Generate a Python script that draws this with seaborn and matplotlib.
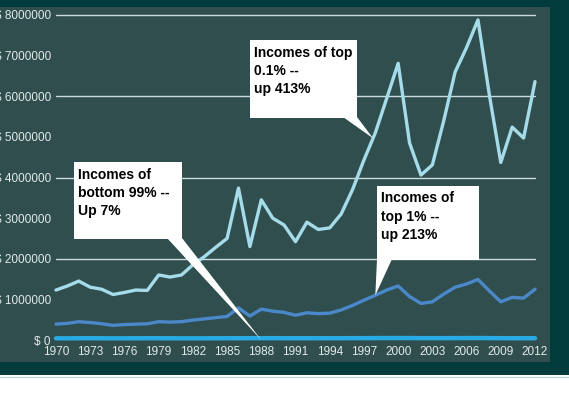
import numpy as np
import pandas as pd
import matplotlib
matplotlib.use("Agg")
import matplotlib.pyplot as plt
from matplotlib.patches import Rectangle, Polygon
from matplotlib.lines import Line2D
import seaborn as sns

years = list(range(1970, 2013))

# average income, top 0.1%
top01 = [1230000, 1330000, 1450000, 1300000, 1250000, 1120000, 1170000, 1230000,
         1220000, 1600000, 1550000, 1600000, 1850000, 2050000, 2280000, 2500000,
         3740000, 2300000, 3450000, 3000000, 2830000, 2420000, 2900000, 2720000,
         2760000, 3100000, 3700000, 4430000, 5100000, 5950000, 6810000, 4850000,
         4060000, 4310000, 5400000, 6600000, 7200000, 7880000, 6030000, 4370000,
         5240000, 4970000, 6360000]

# average income, top 1%
top1 = [390000, 410000, 450000, 430000, 400000, 360000, 380000, 390000,
        400000, 450000, 440000, 450000, 490000, 520000, 550000, 580000,
        790000, 590000, 760000, 710000, 680000, 610000, 670000, 650000,
        660000, 740000, 850000, 980000, 1100000, 1230000, 1330000, 1070000,
        900000, 940000, 1130000, 1300000, 1380000, 1490000, 1210000, 940000,
        1050000, 1030000, 1250000]

# average income, bottom 99%
bottom99 = [41000, 42000, 43500, 44500, 43000, 41500, 42000, 42500,
            43500, 43500, 42500, 42000, 41500, 42000, 43000, 43500,
            44000, 44500, 45000, 45000, 44500, 43500, 44000, 43500,
            44000, 44500, 45000, 46000, 47000, 48000, 48500, 47500,
            46500, 46000, 46500, 47000, 47500, 48000, 47000, 44500,
            44000, 43500, 44000]

xticks = list(range(1970, 2013, 3))
yticks = list(range(0, 8000001, 1000000))

df = pd.DataFrame({"year": years, "top01": top01, "top1": top1, "bottom99": bottom99})

OUTER = "#023b3b"
PANEL = "#304e4e"
GRID = "#c9dcdc"
TICK = "#e2eaea"
C01 = "#a6dcea"
C1 = "#4b88c9"
C99 = "#28aae2"

sns.set_theme(style="white")
plt.rcParams["font.family"] = ["Liberation Sans", "DejaVu Sans"]

W, H = 569, 398
fig = plt.figure(figsize=(W / 100, H / 100), dpi=100)
fig.patch.set_facecolor("white")


def px(x, y):
    # image pixel (top-left origin) -> figure fraction
    return x / W, 1 - y / H


# dark frame and inner panel
fig.add_artist(Rectangle(px(0, 375), 1, 375 / H, transform=fig.transFigure,
                         facecolor=OUTER, edgecolor="none", zorder=-3))
fig.add_artist(Rectangle(px(0, 362), 550 / W, 355 / H, transform=fig.transFigure,
                         facecolor=PANEL, edgecolor="none", zorder=-2))
fig.add_artist(Line2D([0, 1], [1 - 376.5 / H] * 2, transform=fig.transFigure,
                      color="#bcd8d8", lw=1.0, zorder=-2))

ax = fig.add_axes([56 / W, 1 - 340 / H, 479 / W, 325 / H])
ax.set_facecolor("none")

for v in yticks:
    if v > 0 and v % 2000000 == 0:
        ax.axhline(v, color=GRID, lw=1.0, zorder=1)

sns.lineplot(data=df, x="year", y="top01", color=C01, lw=2.4, ax=ax, zorder=3)
sns.lineplot(data=df, x="year", y="top1", color=C1, lw=2.4, ax=ax, zorder=3)
sns.lineplot(data=df, x="year", y="bottom99", color=C99, lw=3.2, ax=ax, zorder=3)
for ln in ax.lines:
    ln.set_clip_on(False)

ax.set_xlim(1970, 2012)
ax.set_ylim(0, 8000000)
ax.set_xticks(xticks)
ax.set_xticklabels([str(y) for y in xticks])
ax.set_yticks(yticks)
ax.set_yticklabels(["$ %d" % v for v in yticks])
ax.tick_params(length=0, labelsize=8.5, labelcolor=TICK)
ax.tick_params(axis="x", pad=4.5)
ax.tick_params(axis="y", pad=3.6)
ax.set_xlabel("")
ax.set_ylabel("")
for s in ax.spines.values():
    s.set_visible(False)

fig.canvas.draw()


def callout(text, box, base, tip):
    x0, y0, x1, y1 = box
    # pointer tip from data coordinates
    tx, ty = fig.transFigure.inverted().transform(ax.transData.transform(tip))
    pts = [px(*base[0]), px(*base[1]), (tx, ty)]
    fig.add_artist(Polygon(pts, closed=True, transform=fig.transFigure,
                           facecolor="white", edgecolor="none", zorder=5))
    fig.add_artist(Rectangle(px(x0, y1), (x1 - x0) / W, (y1 - y0) / H,
                             transform=fig.transFigure, facecolor="white",
                             edgecolor="none", zorder=6))
    fx, fy = px(x0 + 4, y0 + 5.5)
    fig.text(fx, fy, text, ha="left", va="top", fontsize=10, fontweight="bold",
             color="black", linespacing=1.38, zorder=7)


callout("Incomes of\nbottom 99% --\nUp 7%", (74, 162, 182, 239),
        [(167, 238), (182, 238)], (1988, 0))
callout("Incomes of top\n0.1% --\nup 413%", (250, 40, 357, 118),
        [(343, 117), (357, 117)], (1997.8, np.interp(1997.8, years, top01)))
callout("Incomes of\ntop 1% --\nup 213%", (377, 186, 479, 260),
        [(377, 259), (392, 259)], (1998, np.interp(1998, years, top1)))

fig.savefig("out.png", dpi=100, facecolor=fig.get_facecolor())
